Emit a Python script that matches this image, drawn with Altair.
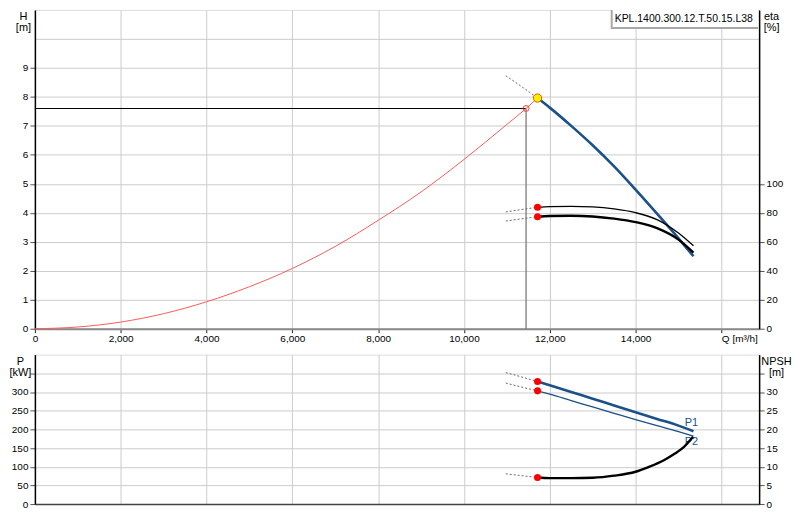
import altair as alt
import pandas as pd

# ---------------- data ----------------
sys_Q = [0, 1000, 2000, 3000, 4000, 5000, 6000, 7000, 8000, 9000, 10000, 11000, 11448, 11715]
sys_H = [0, 0.06, 0.23, 0.52, 0.93, 1.45, 2.08, 2.84, 3.74, 4.72, 5.84, 7.05, 7.6, 7.96]

duty_Q = [11448]
duty_H = [7.6]

op_Q = [11715]
op_H = [7.96]

curve_Q = [11715, 12000, 12500, 13000, 13500, 14000, 14500, 15000, 15350]
H_vals = [7.96, 7.63, 7.00, 6.33, 5.60, 4.80, 3.97, 3.12, 2.50]
eta1_vals = [83.8, 84.3, 84.5, 84.1, 82.7, 80.1, 75.3, 66.0, 57.2]
eta2_vals = [77.3, 77.8, 78.0, 77.5, 76.0, 73.6, 69.4, 61.5, 52.6]
P1_vals = [328, 318, 300, 282, 264, 246, 228, 210, 195]
P2_vals = [303, 294, 277, 260, 243, 226, 210, 194, 182]

npsh_Q = [11715, 12000, 12500, 13000, 13500, 14000, 14300, 14670, 14900, 15130, 15340]
npsh_vals = [7.1, 6.95, 6.95, 7.05, 7.6, 8.65, 9.9, 11.8, 13.4, 15.3, 18.0]

dash_Q = [10975, 11350, 11715]
H_dash = [8.73, 8.35, 7.96]
eta1_dash = [80.6, 82.3, 83.8]
eta2_dash = [74.3, 75.9, 77.3]
P1_dash = [352, 340, 328]
P2_dash = [324, 313, 303]
npsh_dash = [8.1, 7.6, 7.1]

label_text = ["P1", "P2"]
label_Q = [15350, 15350]
label_P = [218, 166]

model_name = "KPL.1400.300.12.T.50.15.L38"

x_ticks = [0, 2000, 4000, 6000, 8000, 10000, 12000, 14000, 16000]
H_ticks = [0, 1, 2, 3, 4, 5, 6, 7, 8, 9, 10]
eta_ticks = [0, 20, 40, 60, 80, 100]
P_ticks = [0, 50, 100, 150, 200, 250, 300, 350]
npsh_ticks = [0, 5, 10, 15, 20, 25, 30, 35]

# ---------------- styling ----------------
FONT = "Liberation Sans"
FS = 10.5
BLUE = "#1a5189"
DASH = "#6a6a6a"
GRID = "#cccccc"
W = 727
H_TOP = 320
H_BOT = 150
Q_MAX = 16880
SMOOTH = "monotone"


def df(q, v):
    return pd.DataFrame({"Q": q, "v": v})


xscale = alt.Scale(domain=[0, Q_MAX], nice=False, zero=False)

x_top = alt.X(
    "Q:Q", scale=xscale, title=None,
    axis=alt.Axis(
        values=x_ticks, grid=True, gridColor=GRID, gridWidth=1,
        domainColor="#888888", domainWidth=2,
        tickColor="#222222", tickSize=4, tickWidth=1,
        labelPadding=1, labelFlush=False, labelOverlap=False,
        labelExpr="datum.value == 16000 ? 'Q [m³/h]' : format(datum.value, ',')",
        labelAlign={"condition": {"test": "datum.value == 16000", "value": "left"}, "value": "center"},
    ),
)
x_bot = alt.X(
    "Q:Q", scale=xscale, title=None,
    axis=alt.Axis(values=x_ticks, grid=True, gridColor=GRID, gridWidth=1,
                  labels=False, ticks=False, domainColor="#444444", domainWidth=1.5),
)


def left_axis(values, hide_from, title, tx, hide_tick):
    return alt.Axis(
        orient="left", values=values, grid=True, gridColor=GRID, gridWidth=1,
        domainColor="#000000", domainWidth=1.5,
        tickColor="#555555", tickSize=5,
        tickOpacity={"condition": {"test": f"datum.value >= {hide_from}", "value": 0 if hide_tick else 1}, "value": 1},
        labelPadding=2, labelOverlap=False,
        labelExpr=f"datum.value >= {hide_from} ? '' : datum.label",
        title=title, titleAngle=0, titleX=tx, titleY=1, titleAlign="center",
        titleBaseline="top", titleLineHeight=11, titleFontWeight="normal",
    )


def right_axis(values, hide_from, title, tx):
    return alt.Axis(
        orient="right", values=values, grid=False,
        domainColor="#000000", domainWidth=1.5,
        tickColor="#555555", tickSize=5,
        labelPadding=2, labelOverlap=False,
        labelExpr=f"datum.value >= {hide_from} ? '' : datum.label",
        title=title, titleAngle=0, titleX=tx, titleY=1, titleAlign="center",
        titleBaseline="top", titleLineHeight=11, titleFontWeight="normal",
    )


def yH(field="v"):
    return alt.Y(f"{field}:Q", scale=alt.Scale(domain=[0, 11], nice=False),
                 axis=left_axis(H_ticks, 10, ["H", "[m]"], -12, True))


def yEta(field="v"):
    return alt.Y(f"{field}:Q", scale=alt.Scale(domain=[0, 220], nice=False),
                 axis=right_axis(eta_ticks, 120, ["eta", "[%]"], 12))


def yP(field="v"):
    return alt.Y(f"{field}:Q", scale=alt.Scale(domain=[0, 400], nice=False),
                 axis=left_axis(P_ticks, 350, ["P", "[kW]"], -15, False))


def yN(field="v"):
    return alt.Y(f"{field}:Q", scale=alt.Scale(domain=[0, 40], nice=False),
                 axis=right_axis(npsh_ticks, 35, ["NPSH", "[m]"], 17))


# ---------------- top panel: H (left) ----------------
duty_df = pd.DataFrame({"Q0": [0], "Q": duty_Q, "v": duty_H, "z": [0]})

h_rule = alt.Chart(duty_df).mark_rule(color="#000000", strokeWidth=1.2).encode(
    x=x_top, x2="Q0:Q", y=yH())
v_rule = alt.Chart(duty_df).mark_rule(color="#707070", strokeWidth=1.2).encode(
    x=x_top, y=yH(), y2="z:Q")
sys_line = alt.Chart(df(sys_Q, sys_H)).mark_line(
    color="#ff5a5a", strokeWidth=1, interpolate=SMOOTH).encode(x=x_top, y=yH())
h_dash = alt.Chart(df(dash_Q, H_dash)).mark_line(
    color=DASH, strokeWidth=1, strokeDash=[2, 2], interpolate=SMOOTH).encode(x=x_top, y=yH())
h_line = alt.Chart(df(curve_Q, H_vals)).mark_line(
    color=BLUE, strokeWidth=2.6, interpolate=SMOOTH).encode(x=x_top, y=yH())
duty_pt = alt.Chart(df(duty_Q, duty_H)).mark_point(
    shape="circle", filled=False, color="#ff4040", size=35, strokeWidth=1, opacity=1).encode(
    x=x_top, y=yH())
op_pt = alt.Chart(df(op_Q, op_H)).mark_point(
    shape="circle", filled=True, fill="#ffee00", stroke="#e85a00", strokeWidth=1,
    size=70, opacity=1).encode(x=x_top, y=yH())

box_df = pd.DataFrame({"t": [model_name]})
box_shadow = alt.Chart(box_df).mark_rect(color="#a8a8a8").encode(
    x=alt.value(W - 149), x2=alt.value(W - 1), y=alt.value(0), y2=alt.value(19))
box_face = alt.Chart(box_df).mark_rect(color="#ffffff").encode(
    x=alt.value(W - 147), x2=alt.value(W - 1), y=alt.value(0), y2=alt.value(17))
box_text = alt.Chart(box_df).mark_text(
    align="left", baseline="middle", font=FONT, fontSize=FS, color="#000000").encode(
    x=alt.value(W - 145), y=alt.value(9), text="t:N")

h_layer = alt.layer(h_rule, v_rule, sys_line, h_dash, h_line, duty_pt, op_pt,
                    box_shadow, box_face, box_text)

# ---------------- top panel: eta (right) ----------------
eta_d1 = alt.Chart(df(dash_Q, eta1_dash)).mark_line(
    color=DASH, strokeWidth=1, strokeDash=[2, 2], interpolate=SMOOTH).encode(x=x_top, y=yEta())
eta_d2 = alt.Chart(df(dash_Q, eta2_dash)).mark_line(
    color=DASH, strokeWidth=1, strokeDash=[2, 2], interpolate=SMOOTH).encode(x=x_top, y=yEta())
eta_l1 = alt.Chart(df(curve_Q, eta1_vals)).mark_line(
    color="#000000", strokeWidth=1.3, interpolate=SMOOTH).encode(x=x_top, y=yEta())
eta_l2 = alt.Chart(df(curve_Q, eta2_vals)).mark_line(
    color="#000000", strokeWidth=2.4, interpolate=SMOOTH).encode(x=x_top, y=yEta())
eta_pts = alt.Chart(df(op_Q * 2, [eta1_vals[0], eta2_vals[0]])).mark_circle(
    color="#ff0000", size=50, opacity=1).encode(x=x_top, y=yEta())

eta_layer = alt.layer(eta_d1, eta_d2, eta_l1, eta_l2, eta_pts)

top = alt.layer(h_layer, eta_layer).resolve_scale(y="independent").properties(
    width=W, height=H_TOP)

# ---------------- bottom panel: P (left) ----------------
p_d1 = alt.Chart(df(dash_Q, P1_dash)).mark_line(
    color=DASH, strokeWidth=1, strokeDash=[2, 2], interpolate=SMOOTH).encode(x=x_bot, y=yP())
p_d2 = alt.Chart(df(dash_Q, P2_dash)).mark_line(
    color=DASH, strokeWidth=1, strokeDash=[2, 2], interpolate=SMOOTH).encode(x=x_bot, y=yP())
p_l1 = alt.Chart(df(curve_Q, P1_vals)).mark_line(
    color=BLUE, strokeWidth=2.6, interpolate=SMOOTH).encode(x=x_bot, y=yP())
p_l2 = alt.Chart(df(curve_Q, P2_vals)).mark_line(
    color=BLUE, strokeWidth=1.3, interpolate=SMOOTH).encode(x=x_bot, y=yP())
p_pts = alt.Chart(df(op_Q * 2, [P1_vals[0], P2_vals[0]])).mark_circle(
    color="#ff0000", size=50, opacity=1).encode(x=x_bot, y=yP())
p_lbl = alt.Chart(pd.DataFrame({"Q": label_Q, "v": label_P, "t": label_text})).mark_text(
    align="center", baseline="middle", font=FONT, fontSize=11, color=BLUE, dx=-2).encode(
    x=x_bot, y=yP(), text="t:N")

p_layer = alt.layer(p_d1, p_d2, p_l1, p_l2, p_pts, p_lbl)

# ---------------- bottom panel: NPSH (right) ----------------
n_d = alt.Chart(df(dash_Q, npsh_dash)).mark_line(
    color=DASH, strokeWidth=1, strokeDash=[2, 2], interpolate=SMOOTH).encode(x=x_bot, y=yN())
n_l = alt.Chart(df(npsh_Q, npsh_vals)).mark_line(
    color="#000000", strokeWidth=2.4, interpolate=SMOOTH).encode(x=x_bot, y=yN())
n_pt = alt.Chart(df(op_Q, [npsh_vals[0]])).mark_circle(
    color="#ff0000", size=50, opacity=1).encode(x=x_bot, y=yN())

n_layer = alt.layer(n_d, n_l, n_pt)

bottom = alt.layer(p_layer, n_layer).resolve_scale(y="independent").properties(
    width=W, height=H_BOT)

chart = alt.vconcat(top, bottom, spacing=9).properties(padding=0).configure_view(
    stroke="#999999", strokeWidth=1
).configure_axis(
    labelFont=FONT, labelFontSize=FS, labelColor="#000000",
    titleFont=FONT, titleFontSize=FS, titleColor="#000000",
).configure(background="#ffffff")

chart.save("out.html", embed_options={"renderer": "svg", "actions": False})
